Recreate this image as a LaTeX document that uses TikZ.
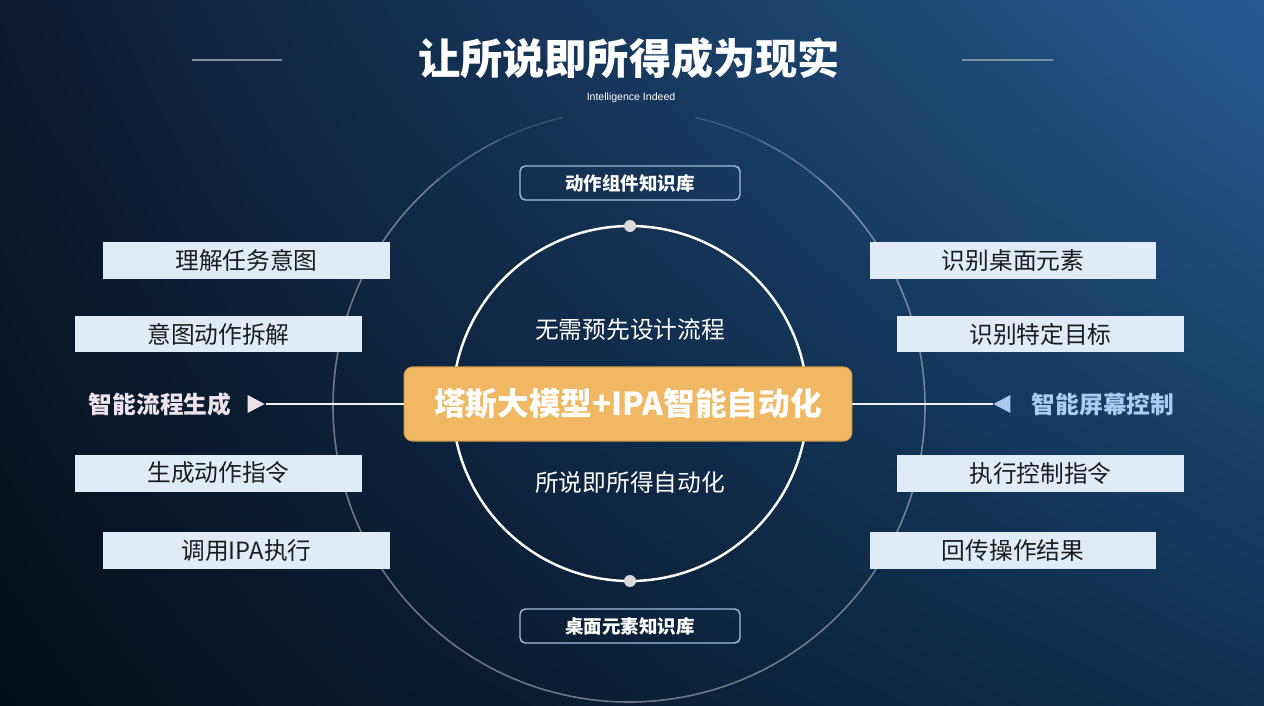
\documentclass[tikz,border=0pt]{standalone}
\usepackage{fontspec}
\setmainfont{Noto Sans CJK SC}
\newfontfamily\subfont{Liberation Sans}
\usetikzlibrary{shapes.geometric,shadings,positioning}

\definecolor{bgtl}{HTML}{0B1B30}
\definecolor{bgtr}{HTML}{265B92}
\definecolor{bgbl}{HTML}{030E1C}
\definecolor{bgbr}{HTML}{10304F}
\definecolor{taskblue}{HTML}{DFEBF7}
\definecolor{taskink}{HTML}{1C1C1C}
\definecolor{kbline}{HTML}{A3BEDD}
\definecolor{coreorange}{HTML}{F0B862}
\definecolor{coreedge}{HTML}{D9A04E}
\definecolor{flowpink}{HTML}{EFE3EA}
\definecolor{screenblue}{HTML}{A9CCF0}
\definecolor{dotgray}{HTML}{D9D9D9}
\definecolor{rulegray}{HTML}{7E8EA2}

\begin{document}
\begin{tikzpicture}[
  x=0.02cm, y=-0.02cm,
  task/.style={fill=taskblue, minimum width=5.74cm, minimum height=0.74cm,
               inner sep=0pt, text=taskink, font=\fontsize{13.5}{15}\selectfont},
  kbase/.style={draw=kbline, line width=0.8pt, rounded corners=3pt,
                minimum width=4.4cm, minimum height=0.68cm, inner sep=0pt,
                text=white, font=\bfseries\fontsize{10.5}{12}\selectfont},
  core/.style={fill=coreorange, draw=coreedge, line width=0.6pt, rounded corners=5pt,
               minimum width=8.96cm, minimum height=1.48cm, inner sep=0pt,
               text=white, font=\bfseries\fontsize{18}{21}\selectfont},
  note/.style={text=white, font=\fontsize{13.5}{15}\selectfont},
  side/.style={font=\bfseries\fontsize{13.5}{15}\selectfont},
  tipmark/.style={isosceles triangle, isosceles triangle stretches, inner sep=0pt,
                  minimum width=0.36cm, minimum height=0.34cm},
  dot/.style={circle, fill=dotgray, minimum size=0.24cm, inner sep=0pt},
  link/.style={draw=white!90!gray, line width=1.1pt},
  ring/.style={draw=white, line width=0.9pt, draw opacity=#1},
  ring/.default=0.4
]
\useasboundingbox (0,0) rectangle (1264,706);
\shade[upper left=bgtl, upper right=bgtr, lower left=bgbl, lower right=bgbr]
  (0,0) rectangle (1264,706);

% title
\node[text=white, font=\bfseries\fontsize{24}{28}\selectfont] (title) at (629,58) {让所说即所得成为现实};
\node[text=white, font=\subfont\fontsize{6}{7}\selectfont] (subtitle) at (631,98) {Intelligence Indeed};
\draw[rulegray, line width=0.6pt] (192,60) -- (282,60);
\draw[rulegray, line width=0.6pt] (962,60) -- (1053,60);

% rings (outer one fades out towards the top)
\draw[ring] (629,406) ++(-50:296) arc[start angle=-50, end angle=230, radius=296];
\draw[ring=0.28] (629,406) ++(-64:296) arc[start angle=-64, end angle=-50, radius=296];
\draw[ring=0.28] (629,406) ++(230:296) arc[start angle=230, end angle=244, radius=296];
\draw[ring=0.15] (629,406) ++(-77:296) arc[start angle=-77, end angle=-64, radius=296];
\draw[ring=0.15] (629,406) ++(244:296) arc[start angle=244, end angle=257, radius=296];
\draw[white, line width=1.4pt] (630,403.5) circle[radius=177.5];
\node[dot] (dtop) at (630,226) {};
\node[dot] (dbot) at (630,581) {};

% knowledge bases
\node[kbase] (kbtop) at (630,183) {动作组件知识库};
\node[kbase] (kbbot) at (630,626) {桌面元素知识库};

\node[note] (upper) at (630,330) {无需预先设计流程};
\node[note] (lower) at (630,482) {所说即所得自动化};

% centre
\node[tipmark, fill=flowpink] (lmark) at (253,404) {};
\node[tipmark, fill=screenblue, shape border rotate=180] (rmark) at (1005,404) {};
\node[core] (core) at (628,404) {塔斯大模型+IPA智能自动化};
\draw[link] (lmark.apex) -- (core.west);
\draw[link] (core.east) -- (rmark.apex);
\node[side, text=flowpink] (flow) at (160,404) {智能流程生成};
\node[side, text=screenblue] (screen) at (1103,404) {智能屏幕控制};

% left steps
\node[task] (l1) at (246.5,260.5) {理解任务意图};
\node[task] (l2) at (218.5,334) {意图动作拆解};
\node[task] (l3) at (218.5,473) {生成动作指令};
\node[task] (l4) at (246.5,550.5) {调用IPA执行};

% right steps
\node[task] (r1) at (1013,260.5) {识别桌面元素};
\node[task] (r2) at (1040.5,334) {识别特定目标};
\node[task] (r3) at (1040.5,473) {执行控制指令};
\node[task] (r4) at (1013,550.5) {回传操作结果};
\end{tikzpicture}
\end{document}
